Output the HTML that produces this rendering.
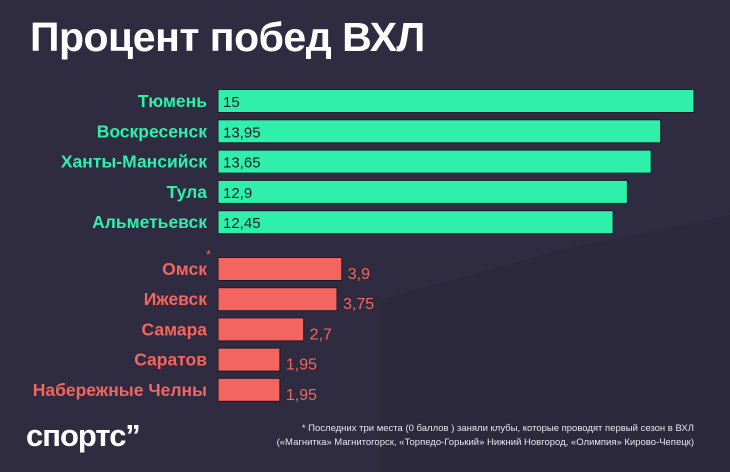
<!DOCTYPE html>
<html><head><meta charset="utf-8"><style>
html,body{margin:0;padding:0}
body{width:730px;height:472px;overflow:hidden;background:#2f2c42;font-family:"Liberation Sans","Noto Sans CJK SC",sans-serif;position:relative}
#bg{position:absolute;left:0;top:0}
h1{position:absolute;left:30px;top:14px;margin:0;font-size:41px;color:#fff;font-weight:bold;letter-spacing:-0.5px}
.note{position:absolute;right:36px;top:422px;color:#e8e6ee;font-size:9.5px;text-align:right;line-height:14px}
.logo{position:absolute;left:26px;top:418px;color:#fff;font-size:31px;font-weight:bold;letter-spacing:-1px}
</style></head><body>
<svg id="bg" width="730" height="472">
<polygon points="380,472 380,300 560,250 730,215 730,472" fill="#2b2839" opacity="0.6"/>
</svg>
<h1>Процент побед ВХЛ</h1>
<svg id="chart" width="730" height="472" style="position:absolute;left:0;top:0"></svg>
<div class="logo">спортс’’</div>
<div class="note">* Последних три места (0 баллов ) заняли клубы, которые проводят первый сезон в ВХЛ<br>(«Магнитка» Магнитогорск, «Торпедо-Горький» Нижний Новгород, «Олимпия» Кирово-Чепецк)</div>
<script>
const topTeams=["Тюмень","Воскресенск","Ханты-Мансийск","Тула","Альметьевск"];
const topValues=[15,13.95,13.65,12.9,12.45];
const topLabels=["15","13,95","13,65","12,9","12,45"];
const bottomTeams=["Омск","Ижевск","Самара","Саратов","Набережные Челны"];
const bottomValues=[3.9,3.75,2.7,1.95,1.95];
const bottomLabels=["3,9","3,75","2,7","1,95","1,95"];
const svg=document.getElementById('chart');const NS="http://www.w3.org/2000/svg";
const x0=218, scale=476/15;
const xw=v=>v*scale;
const yTop=i=>101+i*30.3;
const yBot=i=>269+i*30.2;
function mk(t,a){const e=document.createElementNS(NS,t);for(const k in a)e.setAttribute(k,a[k]);svg.appendChild(e);return e;}
function draw(teams,vals,labels,yf,color,inside,prefix){
 teams.forEach((t,i)=>{
  const y=yf(i),w=xw(vals[i]);
  const r=mk('rect',{x:x0,y:y-11.5,width:w,height:23,fill:color,stroke:'#1d1b28','stroke-width':1});
  
  
  const l=mk('text',{x:207,y:y+6,'text-anchor':'end','font-size':17.5,'font-weight':'bold',fill:color});
  l.textContent=t;
  
  
  const v=mk('text',{x:inside?x0+5:x0+w+6,y:inside?y+6:y+10,'font-size':inside?15:16,fill:inside?'#1d1b28':color});
  v.textContent=labels[i];
  
  
 });
}
draw(topTeams,topValues,topLabels,yTop,'#2ef0ab',true,'top');
draw(bottomTeams,bottomValues,bottomLabels,yBot,'#f5655f',false,'bottom');
const s=mk('text',{x:206,y:259,'font-size':13,fill:'#f5655f'});s.textContent='*';


</script>
</body></html>
